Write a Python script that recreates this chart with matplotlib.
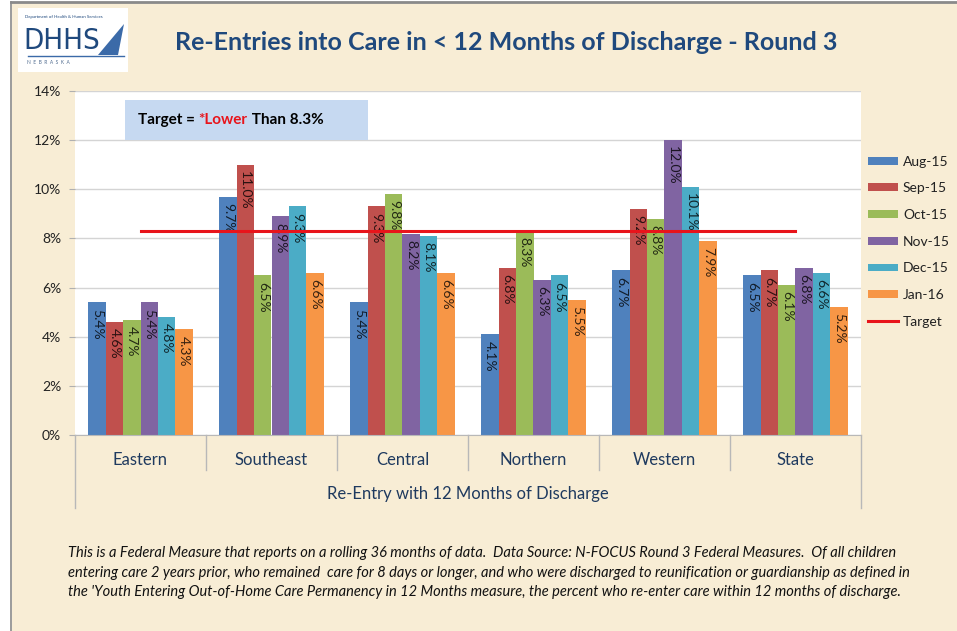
import matplotlib
matplotlib.use("Agg")
import matplotlib.pyplot as plt
from matplotlib.patches import Rectangle, Patch, Polygon
from matplotlib.lines import Line2D
from matplotlib.transforms import blended_transform_factory
import numpy as np

regions = ["Eastern", "Southeast", "Central", "Northern", "Western", "State"]
months = ["Aug-15", "Sep-15", "Oct-15", "Nov-15", "Dec-15", "Jan-16"]
aug15 = [5.4, 9.7, 5.4, 4.1, 6.7, 6.5]
sep15 = [4.6, 11.0, 9.3, 6.8, 9.2, 6.7]
oct15 = [4.7, 6.5, 9.8, 8.3, 8.8, 6.1]
nov15 = [5.4, 8.9, 8.2, 6.3, 12.0, 6.8]
dec15 = [4.8, 9.3, 8.1, 6.5, 10.1, 6.6]
jan16 = [4.3, 6.6, 6.6, 5.5, 7.9, 5.2]
target = [8.3, 8.3, 8.3, 8.3, 8.3, 8.3]
yticks = [0, 2, 4, 6, 8, 10, 12, 14]

series = [aug15, sep15, oct15, nov15, dec15, jan16]
colors = ["#4F81BD", "#C0504D", "#9BBB59", "#8064A2", "#4BACC6", "#F79646"]

FONT = "Lato"
W, H = 957, 631
fig = plt.figure(figsize=(W / 100, H / 100), dpi=100)
fig.patch.set_facecolor("white")

def fx(px):
    return px / W

def fy(py):
    return 1 - py / H

# slide background
fig.patches.append(Rectangle((fx(12), 0), 1, fy(3), transform=fig.transFigure,
                             facecolor="#F8EDD5", edgecolor="none", zorder=-10))
fig.add_artist(Line2D([fx(11), fx(11)], [0, fy(2)], transform=fig.transFigure,
                      color="#8a8a8a", lw=1.2))
fig.add_artist(Line2D([fx(11), 1], [fy(1.5), fy(1.5)], transform=fig.transFigure,
                      color="#8a8a8a", lw=2))

# logo
fig.patches.append(Rectangle((fx(18), fy(72)), fx(110), 64 / H, transform=fig.transFigure,
                             facecolor="white", edgecolor="none", zorder=-5))
fig.text(fx(25), fy(17), "Department of Health & Human Services", fontsize=3.2,
         color="#1F497D", family=FONT, va="center")
fig.text(fx(23), fy(41), "DHHS", fontsize=21, color="#1F497D", family="DejaVu Sans",
         fontweight="light", va="center", fontstretch="condensed")
fig.text(fx(27), fy(63), "N  E  B  R  A  S  K  A", fontsize=3.5, color="#4F6B8F",
         family=FONT, va="center")
fig.patches.append(Polygon([[fx(98), fy(55)], [fx(124), fy(24)], [fx(118), fy(55)]],
                           closed=True, transform=fig.transFigure,
                           facecolor="#3B6AA8", edgecolor="none"))
fig.add_artist(Line2D([fx(28), fx(124)], [fy(55.5), fy(55.5)], transform=fig.transFigure,
                      color="#3B6AA8", lw=1))

# title
fig.text(fx(506), fy(42), "Re-Entries into Care in < 12 Months of Discharge - Round 3",
         fontsize=18, fontweight="bold", color="#1F497D", family=FONT,
         ha="center", va="center")

# axes
ax = fig.add_axes([fx(75), 1 - 435 / H, 786 / W, 344 / H])
ax.set_facecolor("white")
n = len(months)
bw = 0.8 / n
x = np.arange(len(regions))
bar_handles = []
for i, (vals, col, lab) in enumerate(zip(series, colors, months)):
    xs = x - 0.4 + bw * (i + 0.5)
    bc = ax.bar(xs, vals, width=bw, color=col, label=lab, zorder=2)
    bar_handles.append(bc)
    for xi, v in zip(xs, vals):
        ax.annotate(f"{v:.1f}%", (xi, v), xytext=(0, -4.5), textcoords="offset points",
                    rotation=-90, ha="center", va="top", fontsize=10, family=FONT,
                    color="black", alpha=0.78, zorder=3)
tline, = ax.plot(x, target, color="#E8141B", lw=2.2, label="Target", zorder=4)

ax.set_xlim(-0.5, len(regions) - 0.5)
ax.set_ylim(0, 14)
ax.set_yticks(yticks)
ax.set_yticklabels([f"{t}%" for t in yticks], fontsize=10, family=FONT, color="#222222")
ax.set_xticks([])
ax.tick_params(axis="y", length=4, color="#b0b0b0", pad=6)
ax.grid(axis="y", color="#d4d4d4", lw=1, zorder=0)
for s in ["top", "right", "left"]:
    ax.spines[s].set_visible(False)
ax.spines["bottom"].set_color("#b8b8b8")

# category axis (hierarchical)
tr = blended_transform_factory(ax.transData, ax.transAxes)
short = 35 / 344
long_ = 73 / 344
for b in np.arange(0.5, len(regions) - 0.5, 1.0):
    ax.add_artist(Line2D([b, b], [0, -short], transform=tr, color="#b8b8b8", lw=1,
                         clip_on=False))
for b in [-0.5, len(regions) - 0.5]:
    ax.add_artist(Line2D([b, b], [0, -long_], transform=tr, color="#b8b8b8", lw=1,
                         clip_on=False))
for xi, r in zip(x, regions):
    ax.text(xi, -25 / 344, r, transform=tr, ha="center", va="center", fontsize=12,
            family=FONT, color="#1F3A5F")
ax.text((len(regions) - 1) / 2, -59 / 344, "Re-Entry with 12 Months of Discharge",
        transform=tr, ha="center", va="center", fontsize=12, family=FONT, color="#1F3A5F")

# legend
handles = bar_handles + [tline]
labels = months + ["Target"]
leg = ax.legend(handles, labels, loc="upper left", bbox_to_anchor=(fx(862), fy(150)),
                bbox_transform=fig.transFigure, frameon=False,
                prop={"family": FONT, "size": 10}, handlelength=2.2, handleheight=0.5,
                handletextpad=0.35, labelspacing=1.06, borderaxespad=0)
for t in leg.get_texts():
    t.set_color("#222222")

# target box
fig.patches.append(Rectangle((fx(125), fy(140)), 243 / W, 40 / H, transform=fig.transFigure,
                             facecolor="#C6D9F1", edgecolor="none", zorder=5))
fig.canvas.draw()
rend = fig.canvas.get_renderer()
xpos = fx(138)
for piece, col in [("Target = ", "black"), ("*Lower", "#E8141B"), (" Than 8.3%", "black")]:
    t = fig.text(xpos, fy(120), piece, fontsize=11, fontweight="bold", color=col,
                 family=FONT, va="center", ha="left", zorder=6)
    bb = t.get_window_extent(rend)
    xpos += bb.width / W

# footer
footer = [
    "This is a Federal Measure that reports on a rolling 36 months of data.  Data Source: N-FOCUS Round 3 Federal Measures.  Of all children",
    "entering care 2 years prior, who remained  care for 8 days or longer, and who were discharged to reunification or guardianship as defined in",
    "the 'Youth Entering Out-of-Home Care Permanency in 12 Months measure, the percent who re-enter care within 12 months of discharge.",
]
for i, line in enumerate(footer):
    fig.text(fx(68), fy(553 + 19.5 * i), line, fontsize=10.5, style="italic",
             family=["Liberation Sans Narrow", FONT], va="center", ha="left", color="#111111")

fig.savefig("out.png", dpi=100, facecolor=fig.get_facecolor())
